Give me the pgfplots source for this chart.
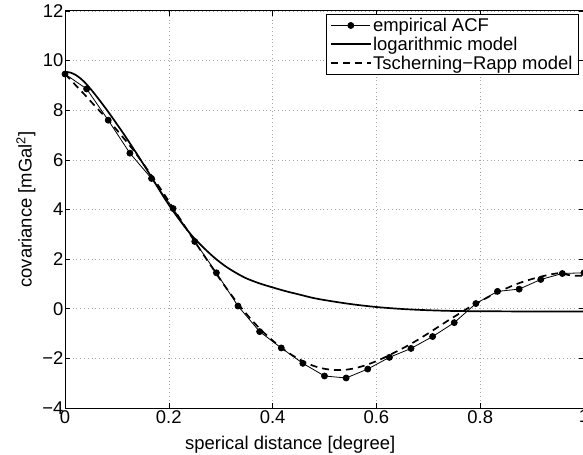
\documentclass[border=0pt]{standalone}
\usepackage{fontspec}
\setmainfont{Liberation Sans}
\usepackage{pgfplots}
\pgfplotsset{compat=1.18}
\usetikzlibrary{calc}
\begin{document}
\begin{tikzpicture}
\begin{axis}[
  scale only axis, width=519bp, height=397bp,
  xmin=0, xmax=1, ymin=-4, ymax=12,
  xtick={0,0.2,0.4,0.6,0.8,1}, xticklabels={0,0.2,0.4,0.6,0.8,1},
  ytick={-4,-2,0,2,4,6,8,10,12}, yticklabels={−4,−2,0,2,4,6,8,10,12},
  tick align=inside, major tick length=5bp,
  tick style={black, line width=0.6bp},
  grid=major, grid style={gray!70, line width=0.6bp, dash pattern=on 0.8bp off 3bp},
  axis line style={line width=1bp},
  ticklabel style={font=\fontsize{18.5}{20}\selectfont},
  yticklabel style={inner sep=1.5bp},
  xticklabel style={inner sep=2bp},
  label style={font=\fontsize{18.5}{20}\selectfont},
  xlabel={sperical distance [degree]},
  ylabel={covariance [mGal\textsuperscript{2}]},
  xlabel style={at={(axis description cs:0.434,-0.1033)}, anchor=base},
  ylabel style={at={(axis description cs:-0.0642,0.5)}, anchor=base},
  legend style={at={(axis description cs:0.990,0.992)}, anchor=north east,
    font=\fontsize{18.5}{21}\selectfont, draw=black, line width=0.8bp,
    inner xsep=4bp, inner ysep=1.5bp, row sep=0bp},
  legend cell align=left,
  legend image code/.code={\draw[mark repeat=2,mark phase=2,#1] plot coordinates {(0bp,0bp) (19.5bp,0bp) (39bp,0bp)};},
]
\addplot[black, line width=0.8bp, mark=*, mark size=3bp, mark options={solid}] coordinates {
(0,9.46) (0.0417,8.86) (0.0833,7.60) (0.125,6.27) (0.1667,5.25) (0.2083,4.04)
(0.25,2.71) (0.2917,1.45) (0.3333,0.11) (0.375,-0.92) (0.4167,-1.58) (0.4583,-2.20)
(0.5,-2.71) (0.5417,-2.79) (0.5833,-2.43) (0.625,-1.96) (0.6667,-1.60) (0.7083,-1.12)
(0.75,-0.56) (0.7917,0.21) (0.8333,0.70) (0.875,0.79) (0.9167,1.18) (0.9583,1.42) (1.0,1.45)
};
\addlegendentry{empirical ACF}
\addplot[black, line width=1.7bp, smooth] coordinates {
(0.000,9.55) (0.010,9.52) (0.020,9.43) (0.030,9.28) (0.040,9.08) (0.050,8.84)
(0.060,8.58) (0.070,8.31) (0.080,8.03) (0.090,7.74) (0.100,7.44) (0.110,7.14)
(0.120,6.83) (0.130,6.51) (0.140,6.19) (0.150,5.86) (0.160,5.53) (0.170,5.19)
(0.180,4.85) (0.190,4.51) (0.200,4.19) (0.210,3.89) (0.220,3.60) (0.230,3.32)
(0.240,3.06) (0.250,2.82) (0.270,2.40) (0.290,2.02) (0.310,1.70) (0.330,1.44)
(0.350,1.22) (0.375,1.02) (0.400,0.86) (0.425,0.71) (0.450,0.58) (0.475,0.45)
(0.500,0.35) (0.550,0.19) (0.600,0.07) (0.650,-0.01) (0.700,-0.06) (0.750,-0.09)
(0.800,-0.10) (0.900,-0.11) (1.000,-0.11)
};
\addlegendentry{logarithmic model}
\addplot[black, line width=1.7bp, dash pattern=on 7bp off 5bp, smooth] coordinates {
(0.000,9.45) (0.010,9.25) (0.020,9.02) (0.030,8.80) (0.040,8.58) (0.050,8.35)
(0.060,8.12) (0.070,7.90) (0.080,7.68) (0.090,7.44) (0.100,7.20) (0.110,6.95)
(0.120,6.70) (0.130,6.44) (0.140,6.16) (0.150,5.87) (0.160,5.57) (0.170,5.27)
(0.180,4.96) (0.190,4.65) (0.200,4.33) (0.220,3.68) (0.240,3.03) (0.260,2.39)
(0.280,1.77) (0.300,1.15) (0.320,0.57) (0.340,0.03) (0.360,-0.46) (0.380,-0.90)
(0.400,-1.28) (0.420,-1.62) (0.440,-1.90) (0.460,-2.13) (0.480,-2.31) (0.500,-2.42)
(0.520,-2.47) (0.540,-2.46) (0.560,-2.39) (0.580,-2.27) (0.600,-2.11) (0.620,-1.92)
(0.640,-1.71) (0.660,-1.49) (0.680,-1.25) (0.700,-0.99) (0.720,-0.72) (0.740,-0.45)
(0.760,-0.19) (0.780,0.07) (0.800,0.30) (0.820,0.52) (0.840,0.72) (0.860,0.91)
(0.880,1.07) (0.900,1.20) (0.920,1.31) (0.940,1.40) (0.950,1.43) (0.960,1.41)
(0.970,1.36) (0.985,1.33) (1.000,1.33)
};
\addlegendentry{Tscherning−Rapp model}
\end{axis}
\pgfresetboundingbox
\path ($(current axis.south west)+(-65bp,-47bp)$) rectangle ($(current axis.north east)+(-1bp,11bp)$);
\end{tikzpicture}
\end{document}
